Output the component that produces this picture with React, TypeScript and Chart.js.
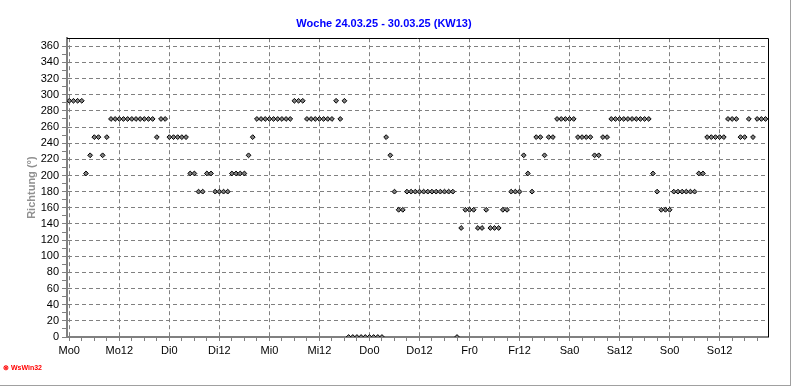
import React, { useEffect, useRef } from "react";
import { Chart, registerables } from "chart.js";

Chart.register(...registerables);

const TITLE = "Woche 24.03.25 - 30.03.25 (KW13)";
const Y_AXIS_TITLE = "Richtung (°)";
const LOGO_TEXT = "WsWin32";

// x axis: hours since Monday 0:00
const X_MAJOR_HOURS = [0, 12, 24, 36, 48, 60, 72, 84, 96, 108, 120, 132, 144, 156];
const X_MAJOR_LABELS = ["Mo0", "Mo12", "Di0", "Di12", "Mi0", "Mi12", "Do0", "Do12", "Fr0", "Fr12", "Sa0", "Sa12", "So0", "So12"];
const X_MINOR_HOURS = [0, 3, 6, 9, 12, 15, 18, 21, 24, 27, 30, 33, 36, 39, 42, 45, 48, 51, 54, 57, 60, 63, 66, 69, 72, 75, 78, 81, 84, 87, 90, 93, 96, 99, 102, 105, 108, 111, 114, 117, 120, 123, 126, 129, 132, 135, 138, 141, 144, 147, 150, 153, 156, 159, 162, 165];
const Y_MAJOR = [0, 20, 40, 60, 80, 100, 120, 140, 160, 180, 200, 220, 240, 260, 280, 300, 320, 340, 360];
const Y_MINOR = [0, 10, 20, 30, 40, 50, 60, 70, 80, 90, 100, 110, 120, 130, 140, 150, 160, 170, 180, 190, 200, 210, 220, 230, 240, 250, 260, 270, 280, 290, 300, 310, 320, 330, 340, 350, 360];

// hourly wind direction (degrees), one array per day, hours 0..23
const DIR_MO = [292.5, 292.5, 292.5, 292.5, 202.5, 225, 247.5, 247.5, 225, 247.5, 270, 270, 270, 270, 270, 270, 270, 270, 270, 270, 270, 247.5, 270, 270];
const DIR_DI = [247.5, 247.5, 247.5, 247.5, 247.5, 202.5, 202.5, 180, 180, 202.5, 202.5, 180, 180, 180, 180, 202.5, 202.5, 202.5, 202.5, 225, 247.5, 270, 270, 270];
const DIR_MI = [270, 270, 270, 270, 270, 270, 292.5, 292.5, 292.5, 270, 270, 270, 270, 270, 270, 270, 292.5, 270, 292.5, 0, 0, 0, 0, 0];
const DIR_DO = [0, 0, 0, 0, 247.5, 225, 180, 157.5, 157.5, 180, 180, 180, 180, 180, 180, 180, 180, 180, 180, 180, 180, 0, 135, 157.5];
const DIR_FR = [157.5, 157.5, 135, 135, 157.5, 135, 135, 135, 157.5, 157.5, 180, 180, 180, 225, 202.5, 180, 247.5, 247.5, 225, 247.5, 247.5, 270, 270, 270];
const DIR_SA = [270, 270, 247.5, 247.5, 247.5, 247.5, 225, 225, 247.5, 247.5, 270, 270, 270, 270, 270, 270, 270, 270, 270, 270, 202.5, 180, 157.5, 157.5];
const DIR_SO = [157.5, 180, 180, 180, 180, 180, 180, 202.5, 202.5, 247.5, 247.5, 247.5, 247.5, 247.5, 270, 270, 270, 247.5, 247.5, 270, 247.5, 270, 270, 270];

const DIRECTION = [...DIR_MO, ...DIR_DI, ...DIR_MI, ...DIR_DO, ...DIR_FR, ...DIR_SA, ...DIR_SO];

const framePlugin = {
  id: "frame",
  afterDatasetsDraw(chart: any) {
    const { ctx, chartArea } = chart;
    const { left, right, top, bottom } = chartArea;
    ctx.save();
    ctx.strokeStyle = "#000000";
    ctx.lineWidth = 1;
    ctx.beginPath();
    ctx.moveTo(left, Math.round(top) + 0.5);
    ctx.lineTo(Math.round(right) + 0.5, Math.round(top) + 0.5);
    ctx.lineTo(Math.round(right) + 0.5, bottom);
    ctx.stroke();
    ctx.restore();
  },
};

export default function App() {
  const canvasRef = useRef<HTMLCanvasElement | null>(null);

  useEffect(() => {
    if (!canvasRef.current) return;
    Chart.defaults.font.family = "'Liberation Sans', Arial, sans-serif";
    const points = DIRECTION.map((v, i) => ({ x: i, y: v }));
    const chart = new Chart(canvasRef.current, {
      type: "scatter",
      data: {
        datasets: [
          {
            data: points,
            pointStyle: "rectRot",
            pointRadius: 2.4,
            pointHoverRadius: 2.4,
            backgroundColor: "#808080",
            borderColor: "#000000",
            borderWidth: 1,
            clip: 0,
          } as any,
        ],
      },
      options: {
        animation: false,
        responsive: false,
        events: [],
        layout: { padding: { left: 0, right: 24, top: 0, bottom: 0 } },
        plugins: {
          legend: { display: false },
          tooltip: { enabled: false },
          title: {
            display: true,
            text: TITLE,
            color: "#0000ff",
            font: { size: 11, weight: "bold" },
            padding: { top: 17, bottom: 8 },
          },
        },
        scales: {
          x: {
            type: "linear",
            position: "bottom",
            min: -0.55,
            max: 167.6,
            afterBuildTicks: (scale: any) => {
              scale.ticks = X_MINOR_HOURS.map((v) => ({ value: v }));
            },
            afterFit: (scale: any) => {
              scale.height = 50;
            },
            ticks: {
              autoSkip: false,
              maxRotation: 0,
              minRotation: 0,
              padding: 3,
              color: "#000000",
              font: { size: 11 },
              callback: (value: any) => {
                const i = X_MAJOR_HOURS.indexOf(Number(value));
                return i >= 0 ? X_MAJOR_LABELS[i] : "";
              },
            },
            grid: {
              color: (ctx: any) =>
                ctx.tick && X_MAJOR_HOURS.includes(ctx.tick.value) ? "#808080" : "rgba(0,0,0,0)",
              tickColor: "#808080",
              tickLength: 4,
              lineWidth: 1,
            },
            border: { display: true, color: "#808080", width: 2, dash: [4, 3] },
          },
          y: {
            type: "linear",
            min: 0,
            max: 370,
            afterBuildTicks: (scale: any) => {
              scale.ticks = Y_MINOR.map((v) => ({ value: v }));
            },
            afterFit: (scale: any) => {
              scale.width = 67;
            },
            ticks: {
              autoSkip: false,
              padding: 3,
              color: "#000000",
              font: { size: 11 },
              callback: (value: any) => (Y_MAJOR.includes(Number(value)) ? String(value) : ""),
            },
            grid: {
              color: (ctx: any) =>
                ctx.tick && Y_MAJOR.includes(ctx.tick.value) ? "#808080" : "rgba(0,0,0,0)",
              tickColor: "#808080",
              tickLength: 5,
              lineWidth: 1,
            },
            border: { display: true, color: "#808080", width: 2, dash: [4, 3] },
            title: {
              display: true,
              text: Y_AXIS_TITLE,
              color: "#909090",
              font: { size: 11, weight: "bold" },
              padding: { top: 25, bottom: 0 },
            },
          },
        },
      } as any,
      plugins: [framePlugin],
    });
    return () => chart.destroy();
  }, []);

  return (
    <div style={{ position: "fixed", left: 0, top: 0, width: 792, height: 387, background: "#ffffff" }}>
      <canvas ref={canvasRef} width={792} height={387} style={{ display: "block", width: 792, height: 387 }} />
      <div
        style={{
          position: "absolute",
          left: 3,
          top: 363,
          color: "#ff0000",
          fontFamily: "'Liberation Sans', Arial, sans-serif",
          fontSize: 7,
          fontWeight: "bold",
          lineHeight: "9px",
          whiteSpace: "nowrap",
        }}
      >
        {"⊗ " + LOGO_TEXT}
      </div>
      <div
        style={{
          position: "absolute",
          left: 0,
          top: 0,
          width: 790,
          height: 385,
          borderRight: "1px solid #a0a0a0",
          borderBottom: "1px solid #a0a0a0",
          pointerEvents: "none",
        }}
      />
    </div>
  );
}
